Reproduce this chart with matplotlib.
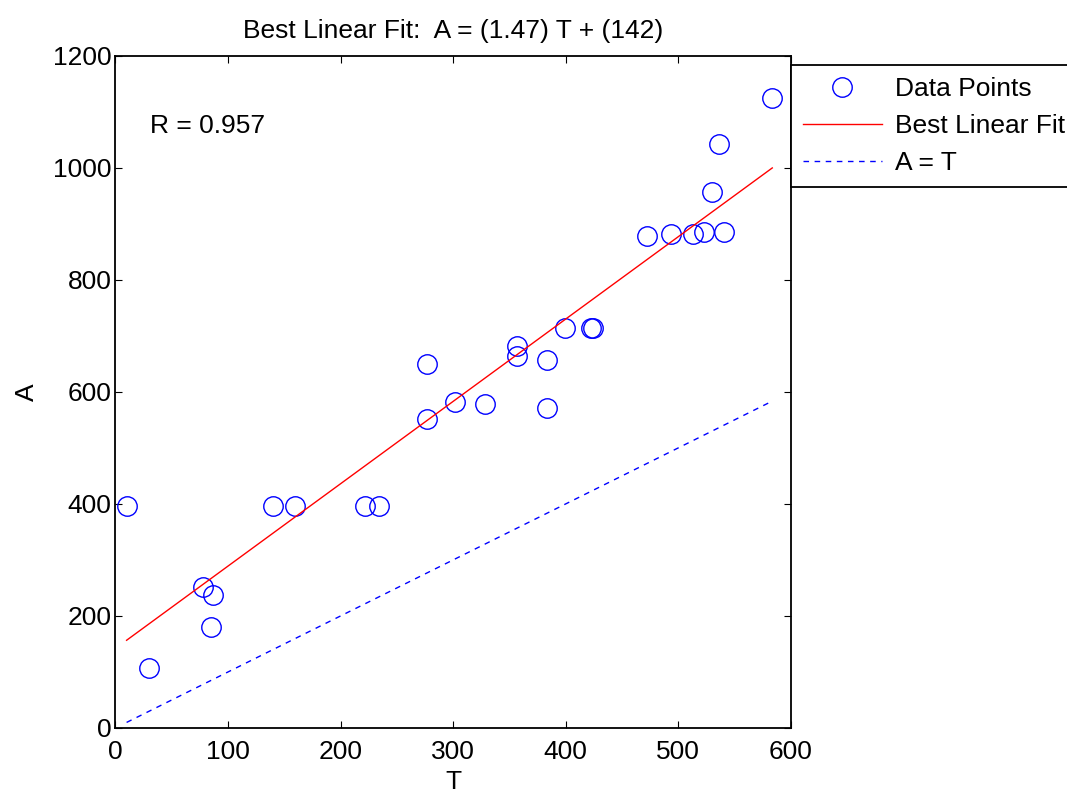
import numpy as np
import matplotlib
matplotlib.use("Agg")
import matplotlib.pyplot as plt

plt.rcParams['font.family'] = ['Liberation Sans', 'DejaVu Sans']

# --- Data ---
T = [9.9, 29.8, 77.5, 86.3, 84.8, 139.9, 159.2, 221.6, 234.1, 276.7,
     276.7, 301.3, 327.9, 356.4, 356.4, 383.0, 383.3, 399.0, 422.4, 423.9,
     471.8, 493.2, 512.7, 523.0, 530.1, 535.8, 540.5, 583.4]
A = [396, 107, 252, 238, 181, 396, 396, 396, 396, 650,
     552, 581, 578, 681, 664, 657, 572, 714, 714, 714,
     878, 882, 882, 885, 956, 1042, 885, 1125]
slope, intercept = 1.47, 142
r_value = 0.957
x_ticks = [0, 100, 200, 300, 400, 500, 600]
y_ticks = [0, 200, 400, 600, 800, 1000, 1200]

t_sorted = np.sort(np.array(T))
fit = slope * t_sorted + intercept

FS = 19

fig = plt.figure(figsize=(10.67, 7.95), dpi=100)
ax = fig.add_axes([0.1082, 0.0843, 0.6331, 0.8457])

pts, = ax.plot(T, A, 'o', mfc='none', mec='blue', ms=14, mew=1.0,
               linestyle='none', label='Data Points')
fitl, = ax.plot(t_sorted, fit, '-', color='red', lw=1.0, label='Best Linear Fit')
idl, = ax.plot(t_sorted, t_sorted, '--', color='blue', lw=1.0,
               dashes=(4, 4), label='A = T')

ax.set_xlim(0, 600)
ax.set_ylim(0, 1200)
ax.set_xticks(x_ticks)
ax.set_yticks(y_ticks)
ax.tick_params(direction='in', length=5, width=0.8, top=True, right=True,
               labelsize=FS)
ax.tick_params(axis='x', pad=9)
ax.tick_params(axis='y', pad=3)
for s in ax.spines.values():
    s.set_linewidth(1.3)

ax.set_xlabel('T', fontsize=FS, labelpad=4)
ax.set_ylabel('A', fontsize=FS, labelpad=10)
ax.set_title('Best Linear Fit:  A = (%.3g) T + (%.3g)' % (slope, intercept),
             fontsize=FS, pad=13)
ax.text(31, 1075, 'R = %.3f' % r_value, fontsize=FS, va='center', ha='left')

leg = fig.legend(handles=[pts, fitl, idl], loc='upper left',
                 bbox_to_anchor=(791 / 1067, 1 - 65 / 795),
                 borderaxespad=0, fontsize=FS, fancybox=False,
                 edgecolor='black', framealpha=1, handlelength=3.0,
                 handletextpad=0.5, borderpad=0.45, labelspacing=0.5)
leg.get_frame().set_linewidth(1.3)

fig.savefig('out.png', dpi=100, facecolor='white')
